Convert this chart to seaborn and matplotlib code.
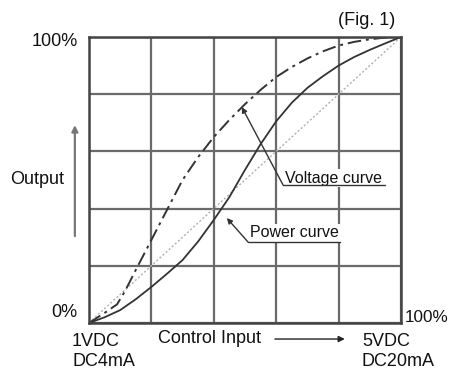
import numpy as np
import pandas as pd
import matplotlib
matplotlib.use("Agg")
import matplotlib.pyplot as plt
import seaborn as sns

# curves, as fractions of full scale
voltage_x = [0, 0.05, 0.09, 0.115, 0.15, 0.2, 0.25, 0.3, 0.35, 0.4, 0.45, 0.5,
             0.55, 0.6, 0.65, 0.7, 0.75, 0.8, 0.85, 0.9, 0.95, 1.0]
voltage_y = [0, 0.035, 0.065, 0.11, 0.185, 0.29, 0.395, 0.50, 0.58, 0.65, 0.71, 0.765,
             0.815, 0.86, 0.895, 0.925, 0.95, 0.97, 0.983, 0.992, 0.998, 1.0]

power_x = [0, 0.05, 0.1, 0.15, 0.2, 0.25, 0.3, 0.35, 0.4, 0.45, 0.5,
           0.55, 0.6, 0.65, 0.7, 0.75, 0.8, 0.85, 0.9, 0.95, 1.0]
power_y = [0, 0.02, 0.045, 0.083, 0.126, 0.172, 0.22, 0.285, 0.36, 0.44, 0.535,
           0.625, 0.705, 0.77, 0.822, 0.863, 0.9, 0.93, 0.955, 0.978, 1.0]

linear_x = [0, 1.0]
linear_y = [0, 1.0]

grid_ticks = [0, 0.2, 0.4, 0.6, 0.8, 1.0]

sns.set_style("white")
plt.rcParams['font.family'] = ['Liberation Sans', 'DejaVu Sans']

fig = plt.figure(figsize=(4.49, 3.72), dpi=100)
ax = fig.add_axes([0.198, 0.1317, 0.695, 0.7688])

df_v = pd.DataFrame({"x": voltage_x, "y": voltage_y})
df_p = pd.DataFrame({"x": power_x, "y": power_y})
df_l = pd.DataFrame({"x": linear_x, "y": linear_y})

sns.lineplot(data=df_l, x="x", y="y", ax=ax, color="#b0b0b0", lw=1.0,
             linestyle=(0, (1.5, 1.5)), sort=False)
sns.lineplot(data=df_p, x="x", y="y", ax=ax, color="#333333", lw=1.3, sort=False)
sns.lineplot(data=df_v, x="x", y="y", ax=ax, color="#333333", lw=1.4,
             linestyle=(0, (7, 2.5, 1.5, 2.5)), sort=False)

ax.set_xlim(0, 1)
ax.set_ylim(0, 1)
ax.set_xticks(grid_ticks)
ax.set_yticks(grid_ticks)
ax.set_xticklabels([])
ax.set_yticklabels([])
ax.tick_params(length=0)
ax.grid(True, color="#6a6a6a", lw=1.6)
ax.set_axisbelow(True)
ax.set_xlabel("")
ax.set_ylabel("")
for s in ax.spines.values():
    s.set_color("#444444")
    s.set_linewidth(1.8)

fs = 13
kw = dict(transform=ax.transAxes, fontsize=fs, color="#111111", clip_on=False)
ax.text(0.891, 1.059, "(Fig. 1)", ha="center", va="center", **kw)
ax.text(-0.035, 0.983, "100%", ha="right", va="center", **kw)
ax.text(-0.038, 0.035, "0%", ha="right", va="center", **kw)
ax.text(-0.253, 0.503, "Output", ha="left", va="center", **kw)
ax.text(-0.054, -0.066, "1VDC", ha="left", va="center", **kw)
ax.text(-0.054, -0.136, "DC4mA", ha="left", va="center", **kw)
ax.text(0.221, -0.055, "Control Input", ha="left", va="center", **kw)
ax.text(1.011, 0.021, "100%", ha="left", va="center",
        transform=ax.transAxes, fontsize=12.3, color="#111111", clip_on=False)
ax.text(0.875, -0.063, "5VDC", ha="left", va="center", **kw)
ax.text(0.875, -0.136, "DC20mA", ha="left", va="center", **kw)

# axis arrows
ax.annotate("", xy=(-0.045, 0.692), xytext=(-0.045, 0.304), xycoords="axes fraction",
            arrowprops=dict(arrowstyle="-|>", color="#777777", lw=1.6,
                            mutation_scale=9, shrinkA=0, shrinkB=0),
            annotation_clip=False)
ax.annotate("", xy=(0.82, -0.056), xytext=(0.596, -0.056), xycoords="axes fraction",
            arrowprops=dict(arrowstyle="-|>", color="#222222", lw=1.0,
                            mutation_scale=9, shrinkA=0, shrinkB=0),
            annotation_clip=False)

# curve labels with white boxes over the grid
lab = dict(fontsize=11.5, color="#111111", ha="left", va="center", zorder=3,
           bbox=dict(boxstyle="square,pad=0.12", fc="white", ec="none"))
ax.text(0.628, 0.507, "Voltage curve", **lab)
ax.text(0.516, 0.315, "Power curve", **lab)

ax.plot([0.622, 0.949], [0.483, 0.483], color="#333333", lw=1.0, zorder=4)
ax.plot([0.51, 0.805], [0.283, 0.283], color="#333333", lw=1.0, zorder=4)
ax.annotate("", xy=(0.49, 0.755), xytext=(0.622, 0.483), zorder=4,
            arrowprops=dict(arrowstyle="-|>", color="#333333", lw=1.0,
                            mutation_scale=8, shrinkA=0, shrinkB=0))
ax.annotate("", xy=(0.442, 0.367), xytext=(0.51, 0.283), zorder=4,
            arrowprops=dict(arrowstyle="-|>", color="#333333", lw=1.0,
                            mutation_scale=8, shrinkA=0, shrinkB=0))

fig.savefig("out.png", dpi=100, facecolor="white")
